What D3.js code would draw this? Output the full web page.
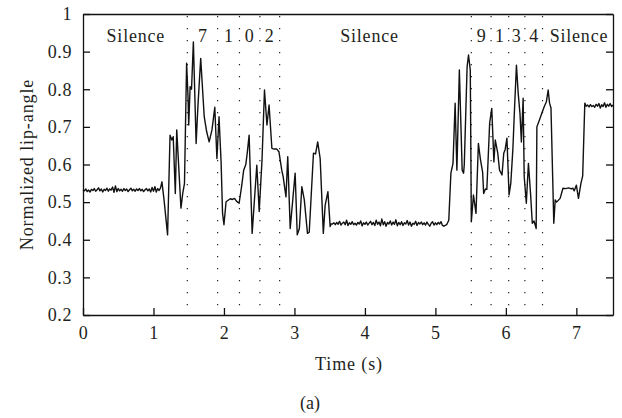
<!DOCTYPE html>
<html>
<head>
<meta charset="utf-8">
<script src="https://cdn.jsdelivr.net/npm/d3@7"></script>
<style>
  body { margin: 0; background: #fff; }
  text { font-family: "Liberation Serif", "Times New Roman", serif; fill: #231f20; }
</style>
</head>
<body>
<svg id="chart"></svg>
<script>
// lip-angle trace, [time (s), normalized angle]
const silenceStart = [
  [0.00, 0.533], [0.02, 0.530], [0.04, 0.535], [0.06, 0.528], [0.08, 0.532], [0.10, 0.527],
  [0.12, 0.534], [0.14, 0.531], [0.16, 0.536], [0.18, 0.529], [0.20, 0.533], [0.22, 0.538],
  [0.24, 0.530], [0.26, 0.535], [0.28, 0.527], [0.30, 0.534], [0.32, 0.531], [0.34, 0.537],
  [0.36, 0.529], [0.38, 0.535], [0.40, 0.532], [0.42, 0.540], [0.44, 0.526], [0.46, 0.543],
  [0.48, 0.528], [0.50, 0.536], [0.52, 0.530], [0.54, 0.534], [0.56, 0.529], [0.58, 0.536],
  [0.60, 0.531], [0.62, 0.535], [0.64, 0.528], [0.66, 0.533], [0.68, 0.537], [0.70, 0.530],
  [0.72, 0.534], [0.74, 0.529], [0.76, 0.535], [0.78, 0.531], [0.80, 0.536], [0.82, 0.530],
  [0.84, 0.534], [0.86, 0.528], [0.88, 0.533], [0.90, 0.536], [0.92, 0.530], [0.94, 0.535],
  [0.96, 0.527], [0.98, 0.539], [1.00, 0.529], [1.02, 0.541], [1.04, 0.527], [1.06, 0.536],
  [1.08, 0.531], [1.10, 0.538]
];

const speechFirst = [
  [1.12, 0.554], [1.15, 0.506], [1.20, 0.413], [1.235, 0.678], [1.26, 0.665], [1.28, 0.674],
  [1.31, 0.523], [1.33, 0.692], [1.39, 0.484], [1.415, 0.523], [1.44, 0.55], [1.47, 0.869],
  [1.49, 0.78], [1.50, 0.705], [1.52, 0.807], [1.54, 0.80], [1.566, 0.926], [1.605, 0.656],
  [1.63, 0.753], [1.67, 0.882], [1.72, 0.727], [1.755, 0.687], [1.79, 0.66], [1.83, 0.692],
  [1.87, 0.752], [1.90, 0.616], [1.93, 0.727], [1.96, 0.603], [1.98, 0.47], [2.00, 0.44],
  [2.03, 0.501], [2.06, 0.505], [2.09, 0.509], [2.12, 0.507], [2.15, 0.510], [2.18, 0.502],
  [2.215, 0.497], [2.25, 0.541], [2.28, 0.585], [2.31, 0.60], [2.33, 0.63], [2.357, 0.678],
  [2.40, 0.417], [2.466, 0.598], [2.50, 0.475], [2.54, 0.612], [2.575, 0.798], [2.61, 0.705],
  [2.64, 0.758], [2.68, 0.643], [2.71, 0.641], [2.75, 0.641], [2.78, 0.634], [2.82, 0.585],
  [2.84, 0.568], [2.88, 0.514], [2.905, 0.621], [2.94, 0.43], [3.01, 0.577], [3.04, 0.413],
  [3.07, 0.43], [3.105, 0.541], [3.14, 0.506], [3.185, 0.417], [3.21, 0.42], [3.27, 0.63],
  [3.30, 0.628], [3.33, 0.66], [3.365, 0.616], [3.41, 0.417], [3.436, 0.492], [3.475, 0.528],
  [3.507, 0.435], [3.52, 0.442]
];

const silenceMiddle = [
  [3.54, 0.442], [3.56, 0.445], [3.58, 0.440], [3.60, 0.446], [3.62, 0.441], [3.64, 0.449],
  [3.66, 0.439], [3.68, 0.444], [3.70, 0.447], [3.72, 0.440], [3.74, 0.452], [3.76, 0.438],
  [3.78, 0.445], [3.80, 0.441], [3.82, 0.448], [3.84, 0.440], [3.86, 0.444], [3.88, 0.439],
  [3.90, 0.446], [3.92, 0.442], [3.94, 0.450], [3.96, 0.437], [3.98, 0.445], [4.00, 0.441],
  [4.02, 0.447], [4.04, 0.439], [4.06, 0.444], [4.08, 0.449], [4.10, 0.440], [4.12, 0.446],
  [4.14, 0.438], [4.16, 0.452], [4.18, 0.441], [4.20, 0.447], [4.22, 0.437], [4.24, 0.455],
  [4.26, 0.440], [4.28, 0.448], [4.30, 0.436], [4.32, 0.446], [4.34, 0.442], [4.36, 0.450],
  [4.38, 0.439], [4.40, 0.447], [4.42, 0.441], [4.44, 0.453], [4.46, 0.437], [4.48, 0.446],
  [4.50, 0.440], [4.52, 0.448], [4.54, 0.438], [4.56, 0.445], [4.58, 0.442], [4.60, 0.451],
  [4.62, 0.439], [4.64, 0.447], [4.66, 0.436], [4.68, 0.444], [4.70, 0.441], [4.72, 0.449],
  [4.74, 0.438], [4.76, 0.446], [4.78, 0.442], [4.80, 0.447], [4.82, 0.440], [4.84, 0.445],
  [4.86, 0.439], [4.88, 0.447], [4.90, 0.441], [4.92, 0.436], [4.94, 0.444], [4.96, 0.448],
  [4.98, 0.439], [5.00, 0.445], [5.02, 0.440], [5.04, 0.446], [5.06, 0.442], [5.08, 0.448],
  [5.10, 0.438], [5.12, 0.436]
];

const speechSecond = [
  [5.16, 0.440], [5.19, 0.452], [5.22, 0.577], [5.25, 0.603], [5.28, 0.763], [5.305, 0.585],
  [5.34, 0.851], [5.38, 0.585], [5.40, 0.577], [5.41, 0.60], [5.45, 0.86], [5.47, 0.891],
  [5.495, 0.851], [5.51, 0.448], [5.54, 0.519], [5.576, 0.47], [5.61, 0.656], [5.64, 0.612],
  [5.67, 0.58], [5.685, 0.523], [5.71, 0.535], [5.73, 0.534], [5.77, 0.71], [5.80, 0.749],
  [5.83, 0.607], [5.85, 0.665], [5.885, 0.63], [5.91, 0.585], [5.945, 0.572], [5.97, 0.63],
  [5.99, 0.64], [6.015, 0.67], [6.045, 0.519], [6.07, 0.55], [6.10, 0.643], [6.12, 0.736],
  [6.15, 0.864], [6.175, 0.789], [6.20, 0.736], [6.22, 0.66], [6.245, 0.776], [6.26, 0.568],
  [6.29, 0.497], [6.32, 0.603], [6.35, 0.523], [6.375, 0.444], [6.40, 0.45], [6.43, 0.43],
  [6.44, 0.70], [6.48, 0.72], [6.51, 0.736], [6.545, 0.754], [6.575, 0.767], [6.60, 0.798],
  [6.62, 0.763], [6.64, 0.75], [6.68, 0.444], [6.70, 0.506], [6.72, 0.50], [6.77, 0.51],
  [6.81, 0.537], [6.85, 0.536], [6.89, 0.538], [6.93, 0.535], [6.95, 0.537], [6.97, 0.53],
  [7.00, 0.545], [7.03, 0.51], [7.065, 0.55], [7.09, 0.57]
];

const silenceEnd = [
  [7.12, 0.763], [7.14, 0.755], [7.16, 0.758], [7.18, 0.753], [7.20, 0.759], [7.22, 0.754],
  [7.24, 0.757], [7.26, 0.752], [7.28, 0.760], [7.30, 0.755], [7.32, 0.762], [7.34, 0.750],
  [7.36, 0.759], [7.38, 0.754], [7.40, 0.764], [7.42, 0.752], [7.44, 0.760], [7.46, 0.755],
  [7.48, 0.762], [7.50, 0.754], [7.52, 0.758]
];

// word boundaries (dotted) and segment labels
const boundaries = [1.48, 1.91, 2.22, 2.51, 2.79, 5.51, 5.79, 6.04, 6.27, 6.52];
const segmentLabels = ["Silence", "7", "1", "0", "2", "Silence", "9", "1", "3", "4", "Silence"];
const segmentCenters = [0.75, 1.70, 2.07, 2.365, 2.65, 4.065, 5.657, 5.917, 6.154, 6.403, 7.037];

const xTicks = [0, 1, 2, 3, 4, 5, 6, 7];
const yTicks = [0.2, 0.3, 0.4, 0.5, 0.6, 0.7, 0.8, 0.9, 1];

const W = 622, H = 418;
const margin = { top: 14, right: 9, bottom: 103, left: 83 };
const plotL = margin.left, plotR = W - margin.right, plotT = margin.top, plotB = H - margin.bottom;

const svg = d3.select("#chart").attr("width", W).attr("height", H);

const x = d3.scaleLinear().domain([0, 7.52]).range([plotL, plotR]);
const y = d3.scaleLinear().domain([0.2, 1]).range([plotB, plotT]);

const signal = silenceStart.concat(speechFirst, silenceMiddle, speechSecond, silenceEnd);

// dotted boundaries
svg.selectAll(".bound")
  .data(boundaries)
  .enter().append("line")
  .attr("class", "bound")
  .attr("x1", d => x(d)).attr("x2", d => x(d))
  .attr("y1", plotT + 2).attr("y2", plotB)
  .attr("stroke", "#222")
  .attr("stroke-width", 1.2)
  .attr("stroke-dasharray", "1.2 10.8");

// trace
const line = d3.line()
  .x(d => x(d[0]))
  .y(d => y(d[1]));

svg.append("path")
  .datum(signal)
  .attr("d", line)
  .attr("fill", "none")
  .attr("stroke", "#111")
  .attr("stroke-width", 1.4)
  .attr("stroke-linejoin", "round");

// axes, ticks pointing inward
const fontSize = 18;

const gx = svg.append("g")
  .attr("transform", `translate(0,${plotB})`)
  .call(d3.axisBottom(x).tickValues(xTicks).tickFormat(d3.format("d"))
    .tickSizeInner(-7).tickSizeOuter(0).tickPadding(11));

const gy = svg.append("g")
  .attr("transform", `translate(${plotL},0)`)
  .call(d3.axisLeft(y).tickValues(yTicks).tickFormat(d => d === 1 ? "1" : d3.format(".1f")(d))
    .tickSizeInner(-7).tickSizeOuter(0).tickPadding(11));

const gr = svg.append("g")
  .attr("transform", `translate(${plotR},0)`)
  .call(d3.axisRight(y).tickValues(yTicks).tickFormat("")
    .tickSizeInner(-7).tickSizeOuter(0));

const gt = svg.append("g")
  .attr("transform", `translate(0,${plotT})`)
  .call(d3.axisTop(x).tickValues([]).tickSizeOuter(0));

[gx, gy, gr, gt].forEach(g => {
  g.select(".domain").attr("stroke", "#111").attr("stroke-width", 1.3);
  g.selectAll(".tick line").attr("stroke", "#111").attr("stroke-width", 1.3);
  g.selectAll(".tick text")
    .attr("font-family", "Liberation Serif, serif")
    .attr("font-size", fontSize)
    .attr("letter-spacing", 0.6)
    .attr("fill", "#231f20");
});

// segment labels
svg.selectAll(".seg")
  .data(segmentLabels)
  .enter().append("text")
  .attr("class", "seg")
  .attr("x", (d, i) => x(segmentCenters[i]))
  .attr("y", 42)
  .attr("text-anchor", "middle")
  .attr("font-size", fontSize)
  .attr("letter-spacing", 0.8)
  .text(d => d);

// axis titles
svg.append("text")
  .attr("x", 349).attr("y", 370)
  .attr("text-anchor", "middle")
  .attr("font-size", fontSize)
  .attr("letter-spacing", 0.9)
  .text("Time (s)");

svg.append("text")
  .attr("transform", `translate(33,${(plotT + plotB) / 2}) rotate(-90)`)
  .attr("text-anchor", "middle")
  .attr("font-size", fontSize)
  .attr("letter-spacing", 0.9)
  .text("Normalized lip-angle");

svg.append("text")
  .attr("x", 310).attr("y", 409)
  .attr("text-anchor", "middle")
  .attr("font-size", fontSize)
  .text("(a)");
</script>
</body>
</html>
